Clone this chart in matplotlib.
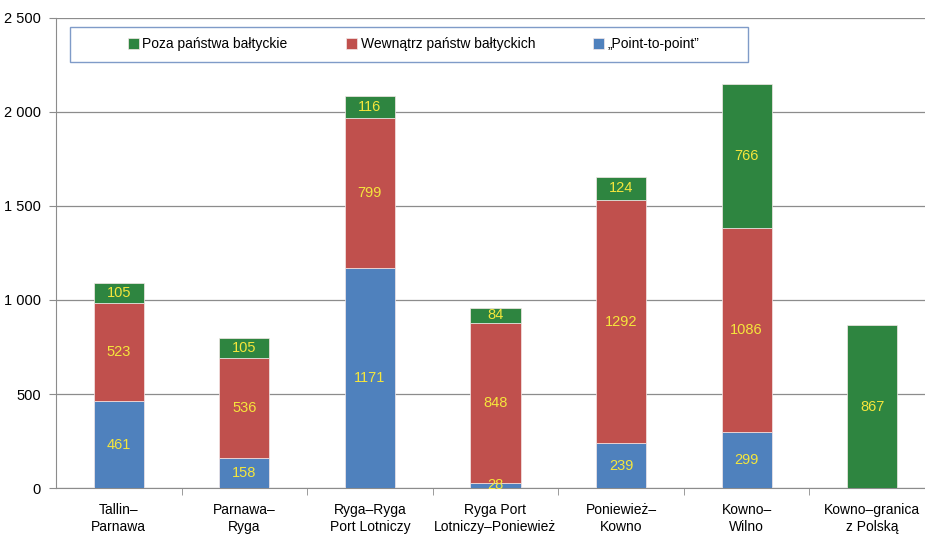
import numpy as np
import matplotlib.pyplot as plt
from matplotlib.patches import Rectangle
from matplotlib.ticker import FuncFormatter, FixedLocator

plt.rcParams['font.family'] = ['Liberation Sans', 'DejaVu Sans']

# Routes and traffic split
routes = ['Tallin–\nParnawa', 'Parnawa–\nRyga', 'Ryga–Ryga\nPort Lotniczy',
          'Ryga Port\nLotniczy–Poniewież', 'Poniewież–\nKowno', 'Kowno–\nWilno',
          'Kowno–granica\nz Polską']
point_to_point = [461, 158, 1171, 28, 239, 299, 0]
inside_baltic = [523, 536, 799, 848, 1292, 1086, 0]
outside_baltic = [105, 105, 116, 84, 124, 766, 867]

c_green = '#2E8540'
c_red = '#C0504D'
c_blue = '#4F81BD'
c_text = '#F5E63C'

fig = plt.figure(figsize=(9.25, 5.34), dpi=100)
ax = fig.add_axes([0.0605, 0.0861, 0.9503, 0.8803])

x = np.arange(len(routes))
w = 0.4
p2p = np.array(point_to_point)
ins = np.array(inside_baltic)
out = np.array(outside_baltic)

kw = dict(edgecolor='#F4E8E8', linewidth=0.5, zorder=3)
b1 = ax.bar(x, p2p, w, color=c_blue, label='„Point-to-point”', **kw)
b2 = ax.bar(x, ins, w, bottom=p2p, color=c_red, label='Wewnątrz państw bałtyckich', **kw)
b3 = ax.bar(x, out, w, bottom=p2p + ins, color=c_green, label='Poza państwa bałtyckie', **kw)

# value labels in the middle of each segment
for vals, base in ((p2p, np.zeros(len(x))), (ins, p2p), (out, p2p + ins)):
    for xi, v, b in zip(x, vals, base):
        if v > 0:
            ax.text(xi, b + v / 2, str(v), ha='center', va='center',
                    color=c_text, fontsize=10.5, zorder=4)

ax.set_xlim(-0.5, len(routes) - 0.5)
ax.set_ylim(0, 2500)
ax.set_yticks(np.arange(0, 2501, 500))
ax.yaxis.set_major_formatter(FuncFormatter(lambda v, p: f'{int(v):,}'.replace(',', ' ')))
ax.grid(axis='y', color='#8C8C8C', linewidth=0.9, zorder=0)

ax.set_xticks(x)
ax.set_xticklabels(routes, fontsize=10, linespacing=1.25)
ax.xaxis.set_minor_locator(FixedLocator(np.arange(0.5, len(routes) - 0.5, 1)))
ax.tick_params(axis='x', which='major', length=0, pad=11)
ax.tick_params(axis='x', which='minor', length=5, color='#8C8C8C')
ax.tick_params(axis='y', length=5, color='#8C8C8C', labelsize=10.5, pad=6)

for s in ('top', 'right'):
    ax.spines[s].set_visible(False)
for s in ('left', 'bottom'):
    ax.spines[s].set_color('#8C8C8C')

# legend box
ax.add_patch(Rectangle((0.0157, 0.906), 0.772, 0.075, transform=ax.transAxes,
                       facecolor='white', edgecolor='#7F9BC8', linewidth=1.0,
                       zorder=5, clip_on=False))
leg = ax.legend(handles=[b3, b2, b1], ncol=3, loc='center',
                bbox_to_anchor=(0.407, 0.9436), fontsize=10,
                frameon=False, handlelength=0.8, handleheight=0.8,
                handletextpad=0.25, columnspacing=4.2)
leg.set_zorder(6)

fig.savefig('out.png', dpi=100)
